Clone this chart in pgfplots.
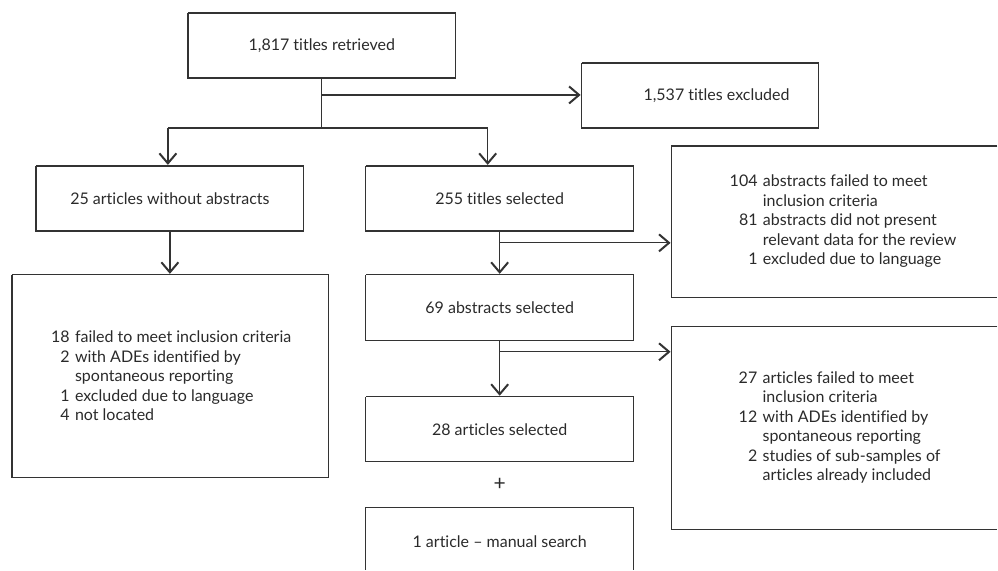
\documentclass[border=0pt]{standalone}
\usepackage{pgfplots}
\pgfplotsset{compat=1.18}
\usepackage{fontspec}
\setmainfont{Lato}[Ligatures={NoCommon,NoRare,NoDiscretionary}]
\usetikzlibrary{arrows.meta}
\definecolor{ln}{HTML}{333333}
\definecolor{tx}{HTML}{2A2A2A}
\begin{document}
\begin{tikzpicture}
\begin{axis}[
  width=998pt, height=570pt, scale only axis,
  xmin=0, xmax=998, ymin=0, ymax=570, y dir=reverse,
  hide axis, clip=false,
  ]
\tikzset{b/.style={color=ln, line width=1.3pt, mark=none, solid},
  arr/.style={b, -{Straight Barb[length=10pt,width=17pt,line width=2pt]}}}
% frame extent
\addplot[draw=none, mark=none] coordinates {(0,0) (998,570)};
% boxes
\addplot[b] coordinates {(188,13) (456,13) (456,78) (188,78) (188,13)};
\addplot[b] coordinates {(582,63) (819,63) (819,128) (582,128) (582,63)};
\addplot[b] coordinates {(36,166) (304,166) (304,231) (36,231) (36,166)};
\addplot[b] coordinates {(366,166) (634,166) (634,231) (366,231) (366,166)};
\addplot[b] coordinates {(998,146) (672,146) (672,298) (998,298)};
\addplot[b] coordinates {(12,275) (329,275) (329,478) (12,478) (12,275)};
\addplot[b] coordinates {(366,275) (634,275) (634,341) (366,341) (366,275)};
\addplot[b] coordinates {(998,327) (672,327) (672,530) (998,530)};
\addplot[b] coordinates {(366,397) (634,397) (634,462) (366,462) (366,397)};
\addplot[b] coordinates {(366,570) (366,508) (634,508) (634,570)};
% connectors
\addplot[b] coordinates {(322,78) (322,128)};
\addplot[b] coordinates {(168,128) (488,128)};
\addplot[b] coordinates {(500,231) (500,243)};
\addplot[b] coordinates {(500,341) (500,352)};
% arrows
\addplot[arr] coordinates {(322,95) (581,95)};
\addplot[arr] coordinates {(168,128) (168,165)};
\addplot[arr] coordinates {(488,128) (488,165)};
\addplot[arr] coordinates {(170,231) (170,274)};
\addplot[arr] coordinates {(500,243) (671,243)};
\addplot[arr] coordinates {(500,243) (500,274)};
\addplot[arr] coordinates {(500,352) (671,352)};
\addplot[arr] coordinates {(500,352) (500,396)};
% texts
\tikzset{t/.style={font=\fontsize{16}{19.5}\selectfont, text=tx, inner sep=0pt}}
\node[t] at (axis cs:322,45.5) {1,817 titles retrieved};
\node[t] at (axis cs:717,95.5) {1,537 titles excluded};
\node[t] at (axis cs:170,198.5) {25 articles without abstracts};
\node[t] at (axis cs:500,198.5) {255 titles selected};
\node[t] at (axis cs:500,308) {69 abstracts selected};
\node[t] at (axis cs:500,429.5) {28 articles selected};
\node[t, font=\fontsize{21}{21}\selectfont] at (axis cs:500,485) {+};
\node[t] at (axis cs:500,542) {1 article -- manual search};
\node[t, anchor=west] at (axis cs:730,222) {\begin{tabular}{@{}r@{\,\,}l@{}}
104 & abstracts failed to meet\\
    & inclusion criteria\\
81  & abstracts did not present\\
    & relevant data for the review\\
1   & excluded due to language
\end{tabular}};
\node[t, anchor=west] at (axis cs:51,378) {\begin{tabular}{@{}r@{\,\,}l@{}}
18 & failed to meet inclusion criteria\\
2  & with ADEs identified by\\
   & spontaneous reporting\\
1  & excluded due to language\\
4  & not located
\end{tabular}};
\node[t, anchor=west] at (axis cs:739,428.5) {\begin{tabular}{@{}r@{\,\,}l@{}}
27 & articles failed to meet\\
   & inclusion criteria\\
12 & with ADEs identified by\\
   & spontaneous reporting\\
2  & studies of sub-samples of\\
   & articles already included
\end{tabular}};
\end{axis}
\end{tikzpicture}
\end{document}
